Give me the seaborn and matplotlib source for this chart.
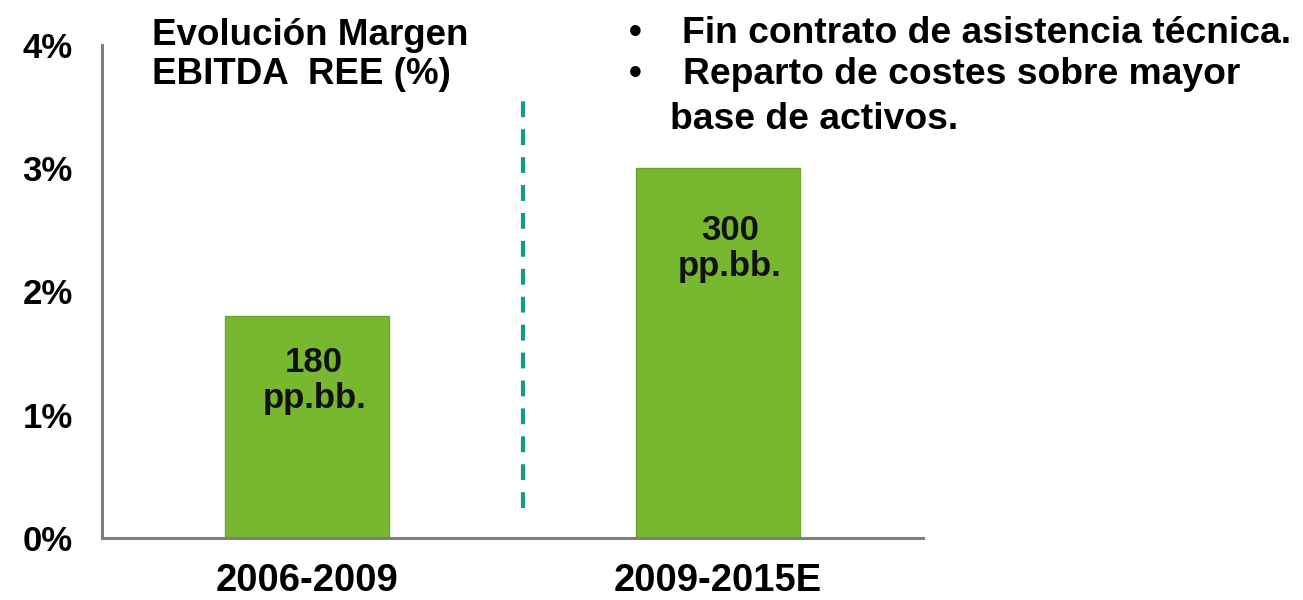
import matplotlib
matplotlib.use("Agg")
import matplotlib.pyplot as plt
import numpy as np
import pandas as pd
import seaborn as sns

# data
periods = ["2006-2009", "2009-2015E"]
margin = [1.8, 3.0]          # EBITDA margin, %
bar_labels = ["180\npp.bb.", "300\npp.bb."]
y_ticks = [0, 1, 2, 3, 4]
title_lines = ["Evolución Margen", "EBITDA  REE (%)"]
bullet_lines = ["Fin contrato de asistencia técnica.",
                "Reparto de costes sobre mayor",
                "base de activos."]

df = pd.DataFrame({"periodo": periods, "margen": margin})

sns.set_style("white")
plt.rcParams["font.family"] = ["Liberation Sans", "DejaVu Sans"]
plt.rcParams["font.weight"] = "bold"
plt.rcParams["text.color"] = "black"
plt.rcParams["xtick.color"] = "black"
plt.rcParams["ytick.color"] = "black"

W, H = 1303, 600
fig = plt.figure(figsize=(W / 100, H / 100), dpi=100)
ax = fig.add_axes([102 / W, 1 - 538 / H, (923 - 102) / W, (538 - 45) / H])

sns.barplot(data=df, x="periodo", y="margen", color="#78b830", saturation=1,
            width=0.4, edgecolor="#6aa528", linewidth=1.0, ax=ax)

ax.set_xlim(-0.5, 1.5)
ax.set_ylim(0, 4)
ax.set_yticks(y_ticks)
ax.set_yticklabels([f"{t}%" for t in y_ticks], fontsize=25, fontweight="bold")
ax.set_xticks([-0.5, 0.5, 1.5])
ax.set_xticklabels(["", "", ""])
ax.set_xticks([0, 1], minor=True)
ax.set_xticklabels(periods, minor=True, fontsize=27.5, fontweight="bold")
ax.tick_params(axis="x", which="minor", length=0, pad=18)
ax.tick_params(axis="x", which="major", length=7, width=2.2, color="#7f7f7f", direction="out")
ax.tick_params(axis="y", length=7, width=2.2, color="#7f7f7f", direction="out", pad=14)
ax.set_xlabel("")
ax.set_ylabel("")

for side in ["top", "right"]:
    ax.spines[side].set_visible(False)
for side in ["left", "bottom"]:
    ax.spines[side].set_color("#7f7f7f")
    ax.spines[side].set_linewidth(2.2)

# value labels inside bars
label_drop = [0.52, 0.65]
label_shift = [0.017, 0.03]
for i, (v, lab) in enumerate(zip(margin, bar_labels)):
    ax.text(i + label_shift[i], v - label_drop[i], lab, ha="center", va="center",
            fontsize=25, fontweight="bold", color="#111111", linespacing=1.12)

# dashed separator
ax.plot([0.525, 0.525], [0.24, 3.56], color="#14998a", lw=3,
        linestyle=(0, (3.8, 2.9)), solid_capstyle="butt")

# title block
for line, base in zip(title_lines, [45, 84]):
    fig.text(152 / W, 1 - base / H, line, fontsize=26.5, fontweight="bold",
             ha="left", va="baseline")

# bullets
for line, x0, base, dot in zip(bullet_lines, [682, 683, 670], [43, 84, 129],
                               [True, True, False]):
    if dot:
        fig.text(629 / W, 1 - base / H, "•", fontsize=26.5, fontweight="bold",
                 ha="left", va="baseline")
    fig.text(x0 / W, 1 - base / H, line, fontsize=26.8, fontweight="bold",
             ha="left", va="baseline")

fig.savefig("out.png", dpi=100)
